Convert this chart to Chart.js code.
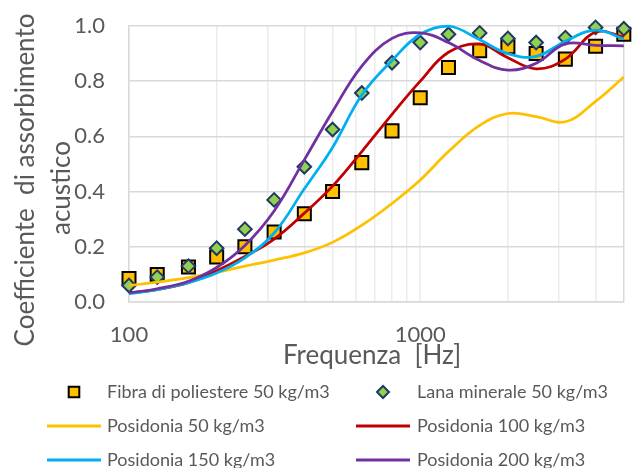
<!DOCTYPE html>
<html>
<head>
<meta charset="utf-8">
<script src="https://cdn.jsdelivr.net/npm/chart.js@4.4.0/dist/chart.umd.min.js"></script>
<style>
html,body{margin:0;padding:0;background:#ffffff;}
#wrap{position:relative;width:635px;height:468px;overflow:hidden;}
</style>
</head>
<body>
<div id="wrap"><canvas id="c" width="635" height="468"></canvas></div>
<script>
// ---- data ----
const frequencies = [100,125,160,200,250,315,400,500,630,800,1000,1250,1600,2000,2500,3150,4000,5000];
const fibraPoliestere50 = [0.085,0.10,0.127,0.163,0.20,0.254,0.32,0.40,0.505,0.62,0.74,0.85,0.91,0.925,0.90,0.88,0.927,0.97];
const lanaMinerale50   = [0.06,0.09,0.13,0.195,0.264,0.37,0.49,0.625,0.757,0.867,0.94,0.97,0.975,0.955,0.94,0.958,0.995,0.99];
const posidonia50  = [0.06,0.072,0.088,0.108,0.13,0.152,0.178,0.216,0.278,0.357,0.442,0.545,0.64,0.683,0.672,0.653,0.727,0.815];
const posidonia100 = [0.033,0.045,0.07,0.113,0.165,0.228,0.322,0.42,0.545,0.68,0.80,0.905,0.935,0.885,0.845,0.88,0.978,0.96];
const posidonia150 = [0.03,0.045,0.07,0.105,0.16,0.25,0.41,0.56,0.75,0.875,0.97,1.0,0.95,0.90,0.89,0.945,0.985,0.953];
const posidonia200 = [0.033,0.048,0.075,0.125,0.205,0.33,0.515,0.69,0.855,0.955,0.975,0.94,0.875,0.84,0.865,0.935,0.93,0.928];

const xGridValues = [100,200,300,400,500,600,700,800,900,1000,2000,3000,4000,5000];
const xLabeledTicks = [100,1000];
const xTitle = 'Frequenza  [Hz]';
const yTitleLines = ['Coefficiente  di assorbimento', 'acustico'];

const labels = ['Fibra di poliestere 50 kg/m3','Lana minerale 50 kg/m3','Posidonia 50 kg/m3','Posidonia 100 kg/m3','Posidonia 150 kg/m3','Posidonia 200 kg/m3'];

const pts = arr => frequencies.map((f,i) => ({x:f, y:arr[i]}));

const textColor = '#595959';
Chart.defaults.font.family = 'Lato';
Chart.defaults.color = textColor;

function lineDs(label, arr, color, order){
  return {label, data: pts(arr), showLine:true, borderColor:color, backgroundColor:color,
    borderWidth:2.75, pointRadius:0, tension:0.4, fill:false, order, clip:false};
}

const datasets = [
  {label:labels[0], data:pts(fibraPoliestere50), showLine:false, pointStyle:'rect', pointRadius:9.2,
   backgroundColor:'#FFC000', borderColor:'#000000', pointBorderWidth:2, borderWidth:2, order:10, clip:false},
  {label:labels[1], data:pts(lanaMinerale50), showLine:false, pointStyle:'rectRot', pointRadius:6.8,
   backgroundColor:'#92D050', borderColor:'#1F3864', pointBorderWidth:2, borderWidth:2, order:9, clip:false},
  lineDs(labels[2], posidonia50, '#FFC000', 4),
  lineDs(labels[3], posidonia100, '#C00000', 3),
  lineDs(labels[4], posidonia150, '#00B0F0', 2),
  lineDs(labels[5], posidonia200, '#7030A0', 1)
];

const legendLayout = {colMarker:[74,383], colText:[107,417], rows:[392,426,460], lineHalf:27};

const annot = {
  id:'annot',
  afterDraw(chart){
    const ctx = chart.ctx;
    ctx.save();
    ctx.fillStyle = textColor;
    // axis titles
    ctx.font = '26px Lato';
    ctx.textAlign = 'center';
    ctx.textBaseline = 'middle';
    ctx.fillText(xTitle, 372, 356);
    ctx.save();
    ctx.translate(26, 180);
    ctx.rotate(-Math.PI/2);
    ctx.fillText(yTitleLines[0], 0, 0);
    ctx.restore();
    ctx.save();
    ctx.translate(62, 188);
    ctx.rotate(-Math.PI/2);
    ctx.fillText(yTitleLines[1], 0, 0);
    ctx.restore();
    // legend
    ctx.font = '18px Lato';
    ctx.textAlign = 'left';
    chart.data.datasets.forEach((ds, i) => {
      const col = i % 2, row = Math.floor(i / 2);
      const mx = legendLayout.colMarker[col], my = legendLayout.rows[row];
      if (ds.showLine) {
        ctx.strokeStyle = ds.borderColor;
        ctx.lineWidth = 3;
        ctx.beginPath();
        ctx.moveTo(mx - legendLayout.lineHalf, my);
        ctx.lineTo(mx + legendLayout.lineHalf, my);
        ctx.stroke();
      } else {
        ctx.fillStyle = ds.backgroundColor;
        ctx.strokeStyle = ds.borderColor;
        ctx.lineWidth = 2;
        Chart.helpers.drawPoint(ctx, {pointStyle: ds.pointStyle, radius: ds.pointStyle === 'rect' ? 7.5 : 6, borderWidth: 2, rotation: 0}, mx, my);
      }
      ctx.fillStyle = textColor;
      ctx.fillText(ds.label, legendLayout.colText[col], my);
    });
    ctx.restore();
  }
};

new Chart(document.getElementById('c'), {
  type:'scatter',
  data:{datasets},
  plugins:[annot],
  options:{
    responsive:false, animation:false, devicePixelRatio:1,
    layout:{padding:{left:0,right:8,top:26,bottom:0}},
    plugins:{legend:{display:false}, tooltip:{enabled:false}},
    scales:{
      x:{
        type:'logarithmic', min:100, max:5000,
        afterBuildTicks: s => { s.ticks = xGridValues.map(v => ({value:v})); },
        afterFit: s => { s.height = 166; s.paddingLeft = 0; s.paddingRight = 0; },
        ticks:{autoSkip:false, maxRotation:0, minRotation:0, padding:20, color:textColor,
          font:{size:22}, callback: v => xLabeledTicks.includes(v) ? String(v) : ''},
        grid:{drawTicks:false, lineWidth:1.5, color: c => (c.tick && c.tick.value === 5000) ? '#d9d9d9' : '#ebebeb'},
        border:{display:true, color:'#d9d9d9', width:1.5}
      },
      y:{
        min:0, max:1,
        afterFit: s => { s.width = 129; s.paddingTop = 0; s.paddingBottom = 0; },
        ticks:{stepSize:0.1, padding:24, color:textColor, font:{size:22},
          callback: v => (Math.round(v*10) % 2 === 0) ? v.toFixed(1) : ''},
        grid:{drawTicks:false, lineWidth:1.5, color: c => (c.tick && Math.round(c.tick.value*10) % 2 === 0) ? '#d9d9d9' : '#efefef'},
        border:{display:true, color:'#d9d9d9', width:1.5}
      }
    }
  }
});
</script>
</body>
</html>
